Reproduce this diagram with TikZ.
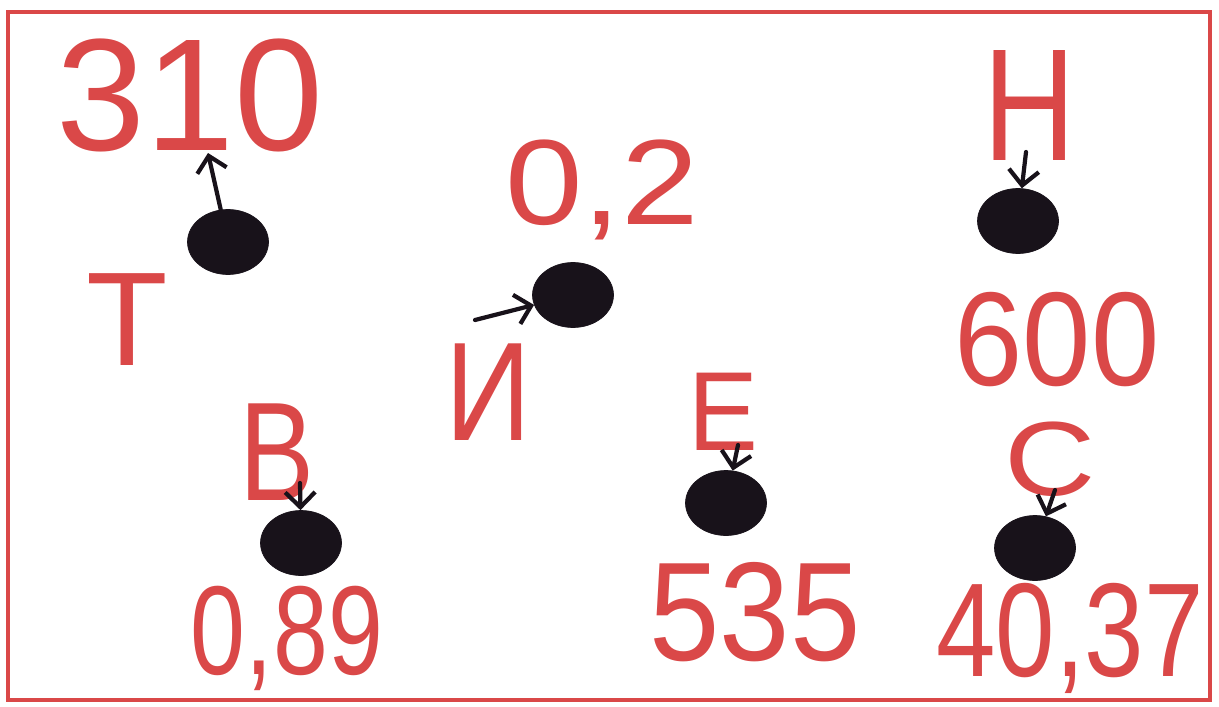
\documentclass[tikz,border=0pt]{standalone}
\usepackage{fontspec}
\setmainfont{Liberation Sans}
\usepackage{graphicx}
\usetikzlibrary{arrows.meta, shapes.geometric}

\definecolor{inkred}{RGB}{218,72,72}
\definecolor{inkdark}{RGB}{24,18,26}

\tikzset{
  lbl/.style={text=inkred, inner sep=0pt, anchor=base, font=\fontsize{#1}{#1}\selectfont},
  lbl/.default=80,
  dot/.style={ellipse, fill=inkdark, draw=inkdark, minimum width=1.62cm, minimum height=1.3cm, inner sep=0pt},
  pin/.style={->, draw=inkdark, line width=2.4pt, line cap=round}
}

\begin{document}
\begin{tikzpicture}[x=0.02cm, y=-0.02cm, >={Straight Barb[length=3mm, width=6mm]}]
  \useasboundingbox (0,0) rectangle (1219,706);
  \draw[inkred, line width=2.2pt] (8,12) rectangle (1210,700);

  % labels
  \node[lbl=91] (n310) at (190,150) {310};
  \node[lbl=76] (lT)   at (127,365) {Т};
  \node[lbl=69] (n02)  at (602,224) {\scalebox{1.15}[1]{0,2}};
  \node[lbl=80] (lI)   at (488,440) {\scalebox{0.85}[1]{И}};
  \node[lbl=91] (lN)   at (1030,160) {\scalebox{0.8}[1]{Н}};
  \node[lbl=76] (n600) at (1057,385) {\scalebox{0.92}[1]{600}};
  \node[lbl=80] (lB)   at (277,500) {\scalebox{0.8}[1]{В}};
  \node[lbl=72] (n089) at (287,674) {\scalebox{0.78}[1]{0,89}};
  \node[lbl=64] (lE)   at (723,450) {\scalebox{0.93}[1]{Е}};
  \node[lbl=80] (n535) at (755,660) {\scalebox{0.9}[1]{535}};
  \node[lbl=60] (lC)   at (1050,495) {\scalebox{1.2}[1]{С}};
  \node[lbl=76] (n4037) at (1070,676) {\scalebox{0.8}[1]{40,37}};

  % dots
  \node[dot] (dT) at (228,242) {};
  \node[dot] (dI) at (573,295) {};
  \node[dot] (dN) at (1018,221) {};
  \node[dot] (dB) at (301,543) {};
  \node[dot] (dE) at (726,503) {};
  \node[dot] (dC) at (1035,548) {};

  % arrow ends
  \coordinate (hT) at (208,153);
  \coordinate (tI) at (475,320);
  \coordinate (tN) at (1026,152);
  \coordinate (tB) at (300,483);
  \coordinate (tE) at (738,445);
  \coordinate (tC) at (1055,490);

  \draw[pin] (dT) -- (hT);
  \draw[pin] (tI) -- (dI);
  \draw[pin] (tN) -- (dN);
  \draw[pin] (tB) -- (dB);
  \draw[pin] (tE) -- (dE);
  \draw[pin] (tC) -- (dC);
\end{tikzpicture}
\end{document}
